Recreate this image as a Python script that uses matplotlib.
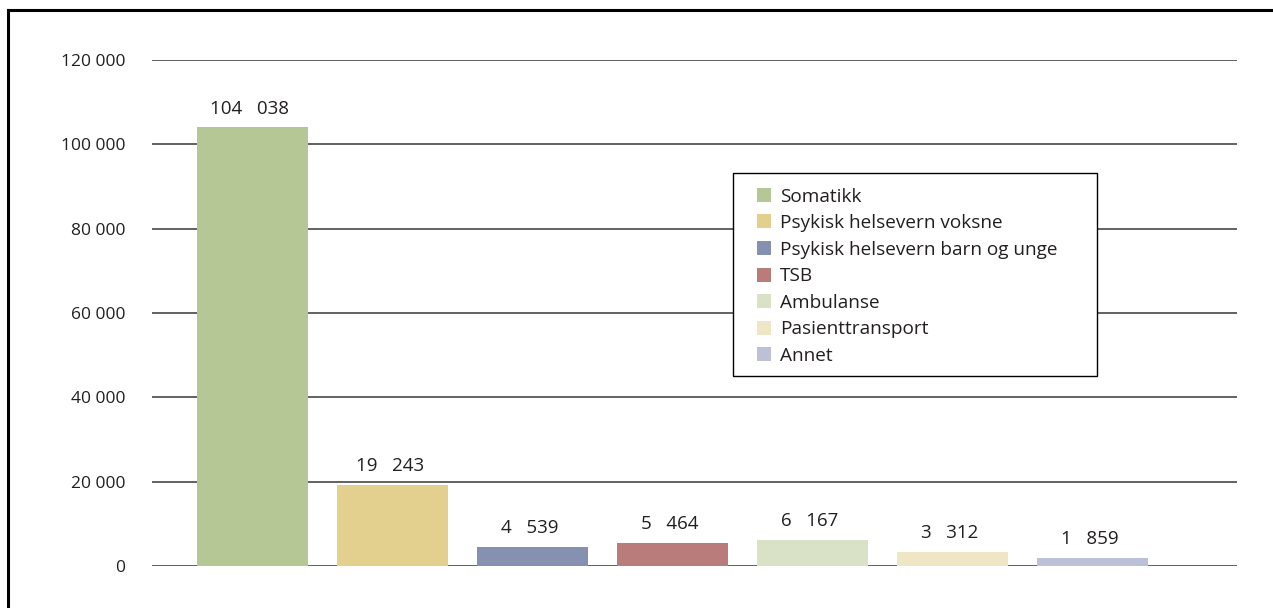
import matplotlib.pyplot as plt
from matplotlib.lines import Line2D
from matplotlib.patches import Rectangle

categories = ['Somatikk', 'Psykisk helsevern voksne', 'Psykisk helsevern barn og unge',
              'TSB', 'Ambulanse', 'Pasienttransport', 'Annet']
values = [104038, 19243, 4539, 5464, 6167, 3312, 1859]
value_labels = ['104   038', '19   243', '4   539', '5   464', '6   167', '3   312', '1   859']
colors = ['#b5c794', '#e3cf8e', '#8690b0', '#b97c7b', '#d9e2c6', '#efe6c5', '#bcc1d7']
yticks = [0, 20000, 40000, 60000, 80000, 100000, 120000]
ytick_labels = ['0', '20 000', '40 000', '60 000', '80 000', '100 000', '120 000']

plt.rcParams['font.family'] = ['Open Sans', 'DejaVu Sans']

W, H = 1273, 608
fig = plt.figure(figsize=(W / 100, H / 100), dpi=100)
ax = fig.add_axes([152 / W, 1 - 566 / H, (1237 - 152) / W, (566 - 60) / H])

x = list(range(len(categories)))
bars = ax.bar(x, values, width=0.79, color=colors, zorder=3)

for b, lab in zip(bars, value_labels):
    ax.annotate(lab, (b.get_x() + b.get_width() / 2, b.get_height()),
                xytext=(-2, 7), textcoords='offset points',
                ha='center', va='bottom', fontsize=13.5, color='#231f20')

ax.set_xlim(-0.718, 7.032)
ax.set_ylim(0, 120000)
ax.set_yticks(yticks)
ax.set_yticklabels(ytick_labels, fontsize=12.5, color='#231f20')
ax.set_xticks([])
ax.tick_params(axis='y', length=0, pad=19)
ax.yaxis.grid(True, color='#555555', linewidth=1.3, zorder=0)
for s in ax.spines.values():
    s.set_visible(False)

# outer frame (top and left only)
fig.add_artist(Line2D([8 / W, 1], [1 - 10 / H, 1 - 10 / H], color='black', lw=2.2,
                      transform=fig.transFigure))
fig.add_artist(Line2D([8 / W, 8 / W], [0, 1 - 10 / H], color='black', lw=2.2,
                      transform=fig.transFigure))

# legend box drawn separately so the inner padding can differ per side
fig.add_artist(Rectangle((733 / W, 1 - 376 / H), (1097 - 733) / W, (376 - 173) / H,
                         transform=fig.transFigure, facecolor='white',
                         edgecolor='black', linewidth=1.0, zorder=4))
leg = fig.legend(bars, categories, loc='upper left',
                 bbox_to_anchor=(757 / W, 1 - 187.5 / H),
                 fontsize=13.7, frameon=False,
                 handlelength=0.75, handleheight=0.75,
                 handletextpad=0.45, labelspacing=0.45, borderpad=0,
                 borderaxespad=0, labelcolor='#231f20')
leg.set_zorder(5)

fig.savefig('out.png', dpi=100)
